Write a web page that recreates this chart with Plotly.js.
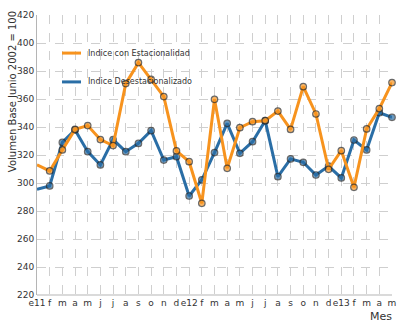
<!DOCTYPE html>
<html>
<head>
<meta charset="utf-8">
<script src="https://cdn.plot.ly/plotly-3.0.1.min.js"></script>
<style>html,body{margin:0;padding:0;background:#fff;}#chart{width:400px;height:323px;}</style>
</head>
<body>
<div id="chart"></div>
<script>
const months = ['e11','f','m','a','m','j','j','a','s','o','n','d','e12','f','m','a','m','j','j','a','s','o','n','d','e13','f','m','a','m'];
const conEstacionalidad = [313, 308.6, 323.6, 338.3, 341, 331, 326.7, 371, 386, 374, 361.7, 322.9, 315.2, 285.5, 359.8, 310.5, 339.5, 343.8, 344.5, 351.4, 338.3, 368.8, 349.3, 309.8, 323.1, 296.9, 338.6, 353.1, 371.7];
const desestacionalizado = [295.5, 297.9, 329, 337.9, 322.4, 312.9, 331, 322.4, 328.3, 337.4, 316.4, 318.8, 290.7, 302.3, 321.7, 342.6, 321.2, 329.5, 344.5, 304.5, 317.2, 314.8, 305.7, 312.1, 303.6, 330.7, 323.6, 350.2, 346.9];
const seriesNames = ['Indice con Estacionalidad', 'Indice Desestacionalizado'];
const yTicks = [220, 240, 260, 280, 300, 320, 340, 360, 380, 400, 420];

const idx = months.map((_, i) => i);
const orange = '#f7931e';
const blue = '#2a6ea6';
const colors = [orange, blue];
const markerSizes = idx.map(i => i === 0 ? 0 : 6.5);

function series(y, color, name) {
  return {
    x: idx, y: y, type: 'scatter', mode: 'lines+markers', name: name,
    showlegend: false, cliponaxis: false,
    line: {color: color, width: 3},
    marker: {size: markerSizes, color: color, line: {color: '#2b2b2b', width: 1.2}}
  };
}

const data = [
  series(desestacionalizado, blue, seriesNames[1]),
  series(conEstacionalidad, orange, seriesNames[0])
];

const font = {family: 'DejaVu Sans, Verdana, sans-serif', color: '#333'};

// legend drawn as line samples + labels inside the plot
const legendY = [0.864, 0.761];
const legendShapes = seriesNames.map((n, i) => ({
  type: 'line', xref: 'paper', yref: 'paper', x0: 0.0704, x1: 0.124, y0: legendY[i], y1: legendY[i],
  line: {color: colors[i], width: 3}
}));
const legendLabels = seriesNames.map((n, i) => ({
  text: n, xref: 'paper', yref: 'paper', x: 0.138, y: legendY[i], xanchor: 'left', yanchor: 'middle',
  showarrow: false, font: Object.assign({}, font, {size: 8})
}));

const layout = {
  width: 400, height: 323,
  margin: {l: 37, r: 8, t: 15, b: 28},
  paper_bgcolor: '#fff', plot_bgcolor: '#fff',
  font: Object.assign({size: 9}, font),
  showlegend: false,
  xaxis: {
    range: [0, months.length - 1], tickvals: idx, ticktext: months, tickangle: 0,
    showgrid: true, gridcolor: '#cfcfcf', griddash: 'dash', gridwidth: 1,
    showline: false, zeroline: false, ticks: '', ticklabelstandoff: 1,
    tickfont: Object.assign({}, font, {size: 9})
  },
  yaxis: {
    range: [220, 420], tickvals: yTicks, showgrid: true, gridcolor: '#cfcfcf', griddash: 'dash',
    showline: true, linecolor: '#b5b5b5', linewidth: 1, zeroline: false, ticks: '',
    tickfont: Object.assign({}, font, {size: 9})
  },
  shapes: [{type: 'line', xref: 'paper', yref: 'paper', x0: 0, x1: 1, y0: 0, y1: 0,
    line: {color: '#b5b5b5', width: 1}}].concat(legendShapes),
  annotations: [
    {text: 'Volumen Base Junio 2002 = 100', xref: 'paper', yref: 'paper', x: -0.07, y: 0.725,
     xanchor: 'center', yanchor: 'middle',
     textangle: -90, showarrow: false, font: Object.assign({}, font, {size: 10})},
    {text: 'Mes', xref: 'paper', yref: 'paper', x: 0.97, y: -0.077, xanchor: 'center', yanchor: 'middle',
     showarrow: false, font: Object.assign({}, font, {size: 11})}
  ].concat(legendLabels)
};

Plotly.newPlot('chart', data, layout, {displayModeBar: false, staticPlot: true});
</script>
</body>
</html>
